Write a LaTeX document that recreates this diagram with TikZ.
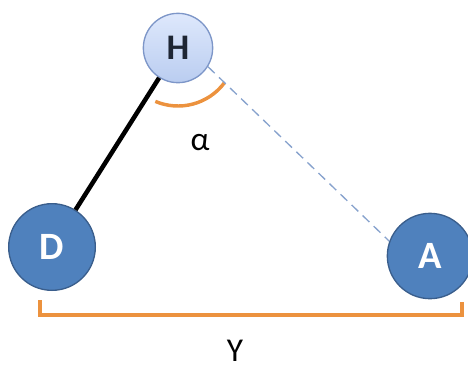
\documentclass[tikz,border=0pt]{standalone}
\usepackage{fontspec}
\setmainfont{Carlito}
\usepackage{tikz}
\usetikzlibrary{arrows.meta, positioning, calc}
\definecolor{atomblue}  {RGB}{79,  129, 189}
\definecolor{atomedge}  {RGB}{58,  94,  140}
\definecolor{hydrolight}{RGB}{222, 232, 252}
\definecolor{hydrofill} {RGB}{186, 205, 240}
\definecolor{hydroedge} {RGB}{125, 150, 200}
\definecolor{bondorange}{RGB}{236, 146, 62}
\definecolor{dashblue}  {RGB}{135, 162, 205}
\definecolor{hydrotext} {RGB}{30,  38,  52}

\begin{document}
\begin{tikzpicture}[x=0.75pt,y=-0.75pt,
		atom/.style={circle,draw=atomedge,line width=1pt,fill=atomblue,text=white,font=\bfseries\fontsize{29}{29}\selectfont,inner sep=0pt},
		orangeline/.style={bondorange,line width=2.6pt}]
				\useasboundingbox (0,0) rectangle (468,369);
				\draw[orangeline] (40,300)--(40,315)--(462,315)--(462,302);
				\draw[orangeline] ([shift={(37:58)}]178,48) arc[start angle=37,end angle=113,radius=58];
				\node[atom,minimum size=65pt] (D) at (52,247) {D};
				\node[atom,minimum size=64pt] (A) at (430,256) {A};
				\node[atom,minimum size=52pt,draw=hydroedge,top color=hydrolight,bottom color=hydrofill,text=hydrotext,font=\bfseries\fontsize{27}{27}\selectfont] (H) at (178,48) {H};
				\draw[black,line width=3.4pt] (D)--(H);
				\draw[dashblue,line width=1pt,dash pattern=on 7pt off 4.5pt] (H.-32)--(A.160);
				\node[font=\fontsize{25}{25}\selectfont] (alpha) at (200,143) {α};
				\node[font=\fontsize{25}{25}\selectfont] (gap) at (235,351) {Y};
			\end{tikzpicture}
\end{document}
